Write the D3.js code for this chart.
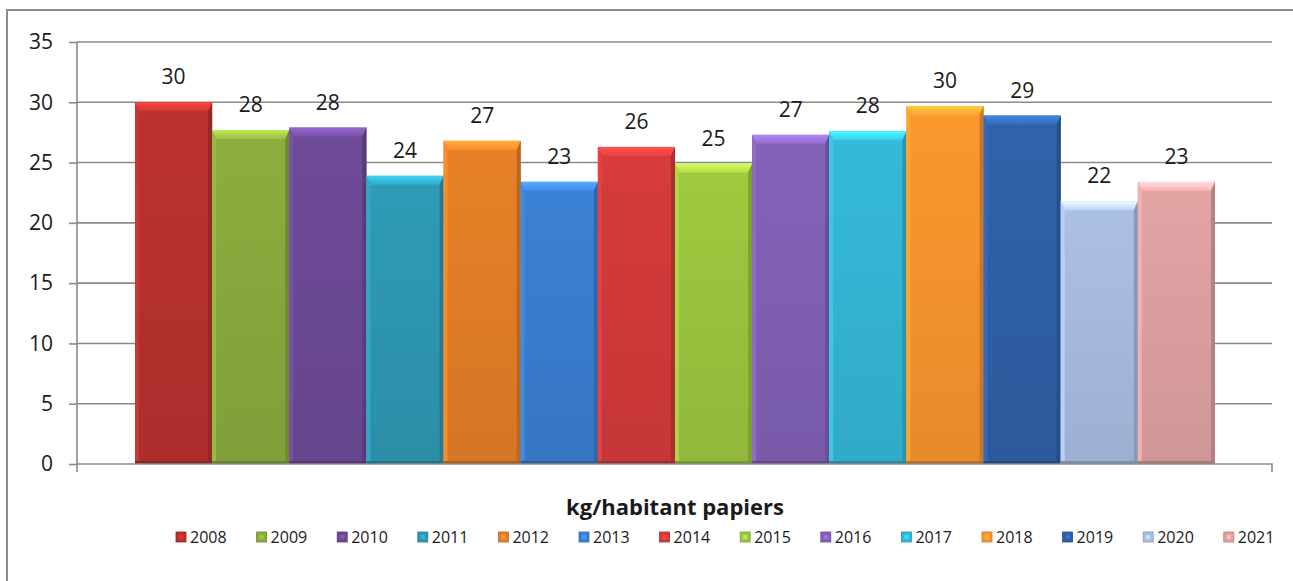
<html>
<head>
<script src="https://d3js.org/d3.v7.min.js" charset="utf-8"></script>
<style>
  body { margin: 0; background: #fff; }
  text { font-family: "Open Sans", sans-serif; fill: #1a1a1a; }
</style>
</head>
<body>
<script>
// Chart data
var years = ["2008", "2009", "2010", "2011", "2012", "2013", "2014",
             "2015", "2016", "2017", "2018", "2019", "2020", "2021"];
var values = [30.0, 27.7, 27.9, 23.9, 26.8, 23.4, 26.3,
              24.9, 27.3, 27.6, 29.7, 28.9, 21.8, 23.4];
var labels = ["30", "28", "28", "24", "27", "23", "26",
              "25", "27", "28", "30", "29", "22", "23"];
var colors = ["#b8312f", "#8aab3d", "#6c4a96", "#2e98b3", "#e47f27", "#3a7fd1", "#d43a3a",
              "#9cc63e", "#8161b6", "#35b7d6", "#f7952d", "#2f61a7", "#a9bde2", "#dfa1a1"];
var yTicks = [0, 5, 10, 15, 20, 25, 30, 35];
var axisTitle = "kg/habitant papiers";

var width = 1293, height = 581;
var plotLeft = 77, plotRight = 1272, plotTop = 42, plotBottom = 464;

var svg = d3.select("body").append("svg")
    .attr("width", width)
    .attr("height", height);

// chart frame (right and bottom edges are outside the picture)
svg.append("path")
    .attr("d", "M7," + (height + 2) + "V10H" + (width + 2))
    .attr("fill", "none")
    .attr("stroke", "#8c8c8c")
    .attr("stroke-width", 2);

var y = d3.scaleLinear().domain([0, 35]).range([plotBottom, plotTop]);
var x = d3.scaleBand().domain(years).range([135, 1215]).paddingInner(0);

// gridlines
svg.append("g").selectAll("line")
    .data(yTicks.filter(function(d) { return d > 0; }))
    .enter().append("line")
    .attr("x1", plotLeft).attr("x2", plotRight)
    .attr("y1", function(d) { return y(d); })
    .attr("y2", function(d) { return y(d); })
    .attr("stroke", "#8a8a8a")
    .attr("stroke-width", 1.6);

// y axis
var yAxis = d3.axisLeft(y).tickValues(yTicks).tickSize(8).tickPadding(16);
var gy = svg.append("g").attr("transform", "translate(" + plotLeft + ",0)").call(yAxis);
gy.select(".domain").remove();
gy.selectAll(".tick line").attr("stroke", "#8a8a8a").attr("stroke-width", 1.6);
gy.selectAll(".tick text")
    .style("font-family", "'Open Sans', sans-serif")
    .style("font-size", "21px")
    .attr("fill", "#1a1a1a");
svg.append("line")
    .attr("x1", plotLeft).attr("x2", plotLeft)
    .attr("y1", plotTop).attr("y2", plotBottom + 8)
    .attr("stroke", "#8a8a8a").attr("stroke-width", 1.6);

// bars with a bevel look
var defs = svg.append("defs");
var bevel = 9, side = 4;
var bars = svg.append("g").selectAll("g")
    .data(years)
    .enter().append("g");

bars.each(function(yr, i) {
    var g = d3.select(this);
    var c = d3.color(colors[i]);
    var bx = x(yr), bw = x.bandwidth();
    var by = y(values[i]), bh = plotBottom - by;

    var grad = defs.append("linearGradient")
        .attr("id", "g" + i).attr("x1", 0).attr("x2", 0).attr("y1", 0).attr("y2", 1);
    grad.append("stop").attr("offset", "0%").attr("stop-color", c.brighter(0.05));
    grad.append("stop").attr("offset", "100%").attr("stop-color", c.darker(0.2));

    var tg = defs.append("linearGradient")
        .attr("id", "t" + i).attr("x1", 0).attr("x2", 0).attr("y1", 0).attr("y2", 1);
    tg.append("stop").attr("offset", "0%").attr("stop-color", c.brighter(0.9));
    tg.append("stop").attr("offset", "100%").attr("stop-color", c.brighter(0.3));

    g.append("rect")
        .attr("x", bx).attr("y", by)
        .attr("width", bw).attr("height", bh)
        .attr("fill", "url(#g" + i + ")");
    // top bevel
    g.append("path")
        .attr("d", "M" + bx + "," + by + "H" + (bx + bw) +
              "L" + (bx + bw - side) + "," + (by + bevel) +
              "H" + (bx + side) + "Z")
        .attr("fill", "url(#t" + i + ")");
    // left edge
    g.append("path")
        .attr("d", "M" + bx + "," + by + "L" + (bx + side) + "," + (by + bevel) +
              "V" + (plotBottom - 3) + "L" + bx + "," + plotBottom + "Z")
        .attr("fill", c.brighter(0.25));
    // right edge
    g.append("path")
        .attr("d", "M" + (bx + bw) + "," + by + "L" + (bx + bw - side) + "," + (by + bevel) +
              "V" + (plotBottom - 3) + "L" + (bx + bw) + "," + plotBottom + "Z")
        .attr("fill", c.darker(0.6));
    // bottom edge
    g.append("rect")
        .attr("x", bx).attr("y", plotBottom - 3)
        .attr("width", bw).attr("height", 3)
        .attr("fill", c.darker(0.8));

    // value label
    g.append("text")
        .attr("x", bx + bw / 2)
        .attr("y", by - 18)
        .attr("text-anchor", "middle")
        .style("font-size", "21px")
        .text(labels[i]);
});

// x axis line with end ticks
svg.append("path")
    .attr("d", "M" + plotLeft + "," + plotBottom + "H" + plotRight + "V" + (plotBottom + 8))
    .attr("fill", "none")
    .attr("stroke", "#8a8a8a")
    .attr("stroke-width", 1.6);

// axis title
svg.append("text")
    .attr("x", 675)
    .attr("y", 515)
    .attr("text-anchor", "middle")
    .style("font-size", "22px")
    .style("font-weight", "bold")
    .text(axisTitle);

// legend
var legend = svg.append("g").selectAll("g")
    .data(years)
    .enter().append("g")
    .attr("transform", function(d, i) { return "translate(" + (176 + i * 80.6) + ",537)"; });
legend.append("rect")
    .attr("x", 0).attr("y", -5)
    .attr("width", 10).attr("height", 10)
    .attr("fill", function(d, i) { return colors[i]; })
    .attr("stroke", function(d, i) { return d3.color(colors[i]).darker(0.6); })
    .attr("stroke-width", 0.8);
legend.append("rect")
    .attr("x", 3).attr("y", -2)
    .attr("width", 4).attr("height", 4)
    .attr("fill", function(d, i) { return d3.color(colors[i]).brighter(0.5); });
legend.append("text")
    .attr("x", 14)
    .attr("y", 0)
    .attr("dy", "0.35em")
    .style("font-size", "16px")
    .text(function(d) { return d; });
</script>
</body>
</html>
